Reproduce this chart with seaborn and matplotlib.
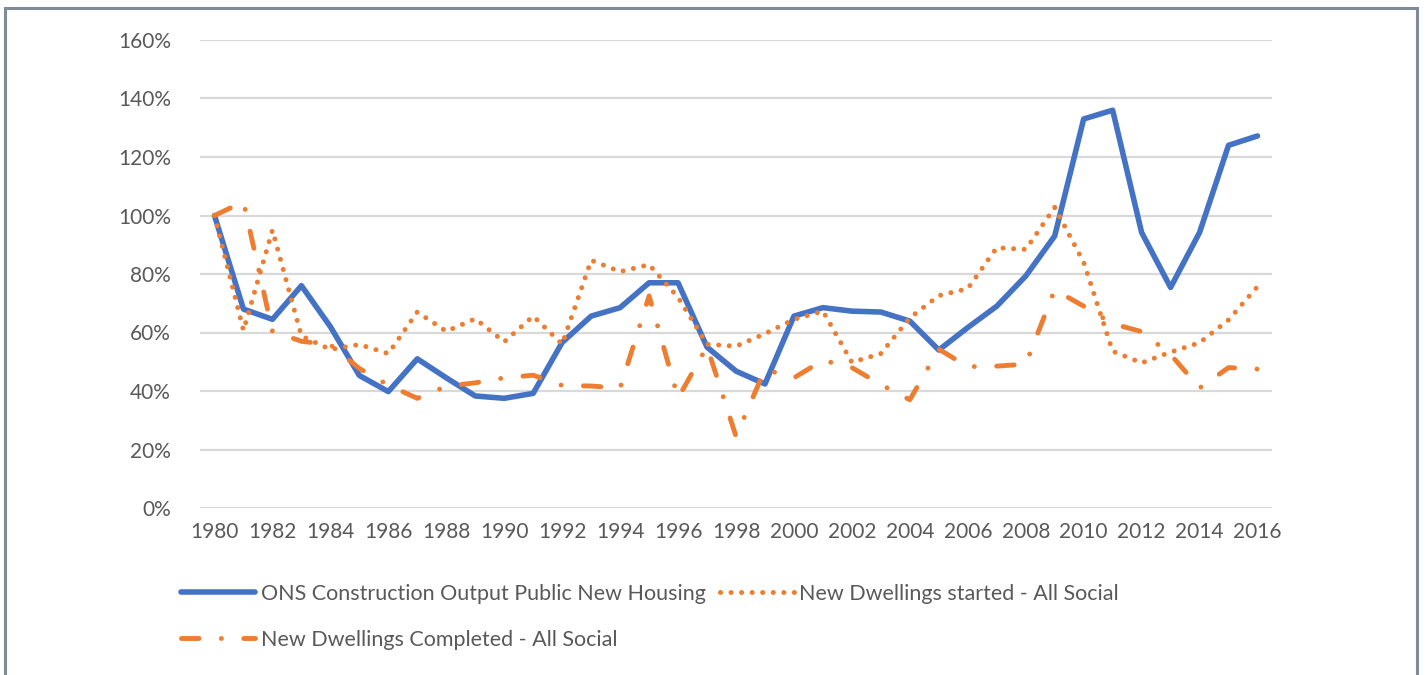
import matplotlib
matplotlib.use("Agg")
import matplotlib.pyplot as plt
import matplotlib.patches as mpatches
from matplotlib.ticker import FuncFormatter, MultipleLocator
import seaborn as sns
import pandas as pd

# Index values (1980 = 100%)
years = list(range(1980, 2017))

ons_output = [100, 68, 64.5, 76, 62, 45.3, 39.8, 51, 44.5, 38.3,
              37.5, 39.2, 56.6, 65.6, 68.5, 77, 77, 55, 46.8, 42.4,
              65.6, 68.5, 67.3, 67, 63.9, 54, 61.7, 69, 79.3, 93,
              133, 136, 94.2, 75.4, 94.2, 124, 127.2]

started_social = [100, 60.7, 95, 58.8, 54.2, 55.9, 52.8, 67, 60.4, 64.7,
                  56.8, 65.6, 56, 84.7, 80.8, 83.2, 72, 56, 55.3, 59.6,
                  64.5, 67.3, 49.8, 52.8, 65, 72.6, 75, 89, 88.4, 102.8,
                  84, 53.6, 49.6, 53.3, 56.5, 64.3, 75.7]

completed_social = [100, 104.7, 60.5, 57, 55.8, 47.7, 42, 37.5, 41.6, 42.8,
                    44.5, 45.4, 41.9, 41.7, 41, 72.5, 37.6, 55.2, 24.5, 47.4,
                    44.5, 50.5, 48, 42.2, 37, 54.3, 48.3, 48.5, 49.2, 74.6,
                    69, 63, 60.3, 52.5, 41, 48, 47.5]

labels = ["ONS Construction Output Public New Housing",
          "New Dwellings started - All Social",
          "New Dwellings Completed - All Social"]

df = pd.DataFrame({"year": years, "ons": ons_output,
                   "started": started_social, "completed": completed_social})

sns.set_theme(style="white")
plt.rcParams["font.family"] = ["Lato", "DejaVu Sans"]

BLUE = "#4472C4"
ORANGE = "#ED7D31"
TEXT = "#595959"

fig = plt.figure(figsize=(14.26, 6.75), dpi=100)
ax = fig.add_axes([200 / 1426, 1 - 508 / 675, 1072 / 1426, 468 / 675])

sns.lineplot(data=df, x="year", y="ons", ax=ax, color=BLUE, linewidth=4.0,
             solid_capstyle="round", solid_joinstyle="round", label=labels[0])
sns.lineplot(data=df, x="year", y="started", ax=ax, color=ORANGE, linewidth=3.6,
             linestyle=(0, (0.01, 2.1)), dash_capstyle="round", label=labels[1])
sns.lineplot(data=df, x="year", y="completed", ax=ax, color=ORANGE, linewidth=3.5,
             linestyle=(0, (3.6, 4.6, 0.01, 4.6)), dash_capstyle="round",
             label=labels[2])

ax.set_xlim(1979.5, 2016.5)
ax.set_ylim(0, 160)
ax.yaxis.set_major_locator(MultipleLocator(20))
ax.yaxis.set_major_formatter(FuncFormatter(lambda v, _: f"{v:.0f}%"))
ax.set_xticks(years[::2])
ax.set_xlabel("")
ax.set_ylabel("")
ax.grid(axis="y", color="#D9D9D9", linewidth=1.6)
ax.grid(axis="x", visible=False)
ax.set_axisbelow(True)
for s in ax.spines.values():
    s.set_visible(False)
ax.tick_params(axis="both", length=0, labelsize=15, labelcolor=TEXT)
ax.tick_params(axis="y", pad=21)
ax.tick_params(axis="x", pad=10)

handles, lbls = ax.get_legend_handles_labels()
ax.get_legend().remove()
order = [0, 2, 1]
fig.legend([handles[i] for i in order], [lbls[i] for i in order],
           loc="upper left", bbox_to_anchor=(181 / 1426, 1 - 584 / 675),
           ncol=2, frameon=False, fontsize=15.5, labelcolor=TEXT,
           handlelength=3.45, handletextpad=0.25, columnspacing=0.65,
           labelspacing=1.2, borderpad=0, borderaxespad=0)

# outer frame
fig.patches.append(mpatches.Rectangle((4.5 / 1426, -0.05), 1412.5 / 1426, 1.05 - 7.5 / 675,
                                      transform=fig.transFigure, fill=False,
                                      edgecolor="#7F8C98", linewidth=2.2))

fig.savefig("out.png", dpi=100)
